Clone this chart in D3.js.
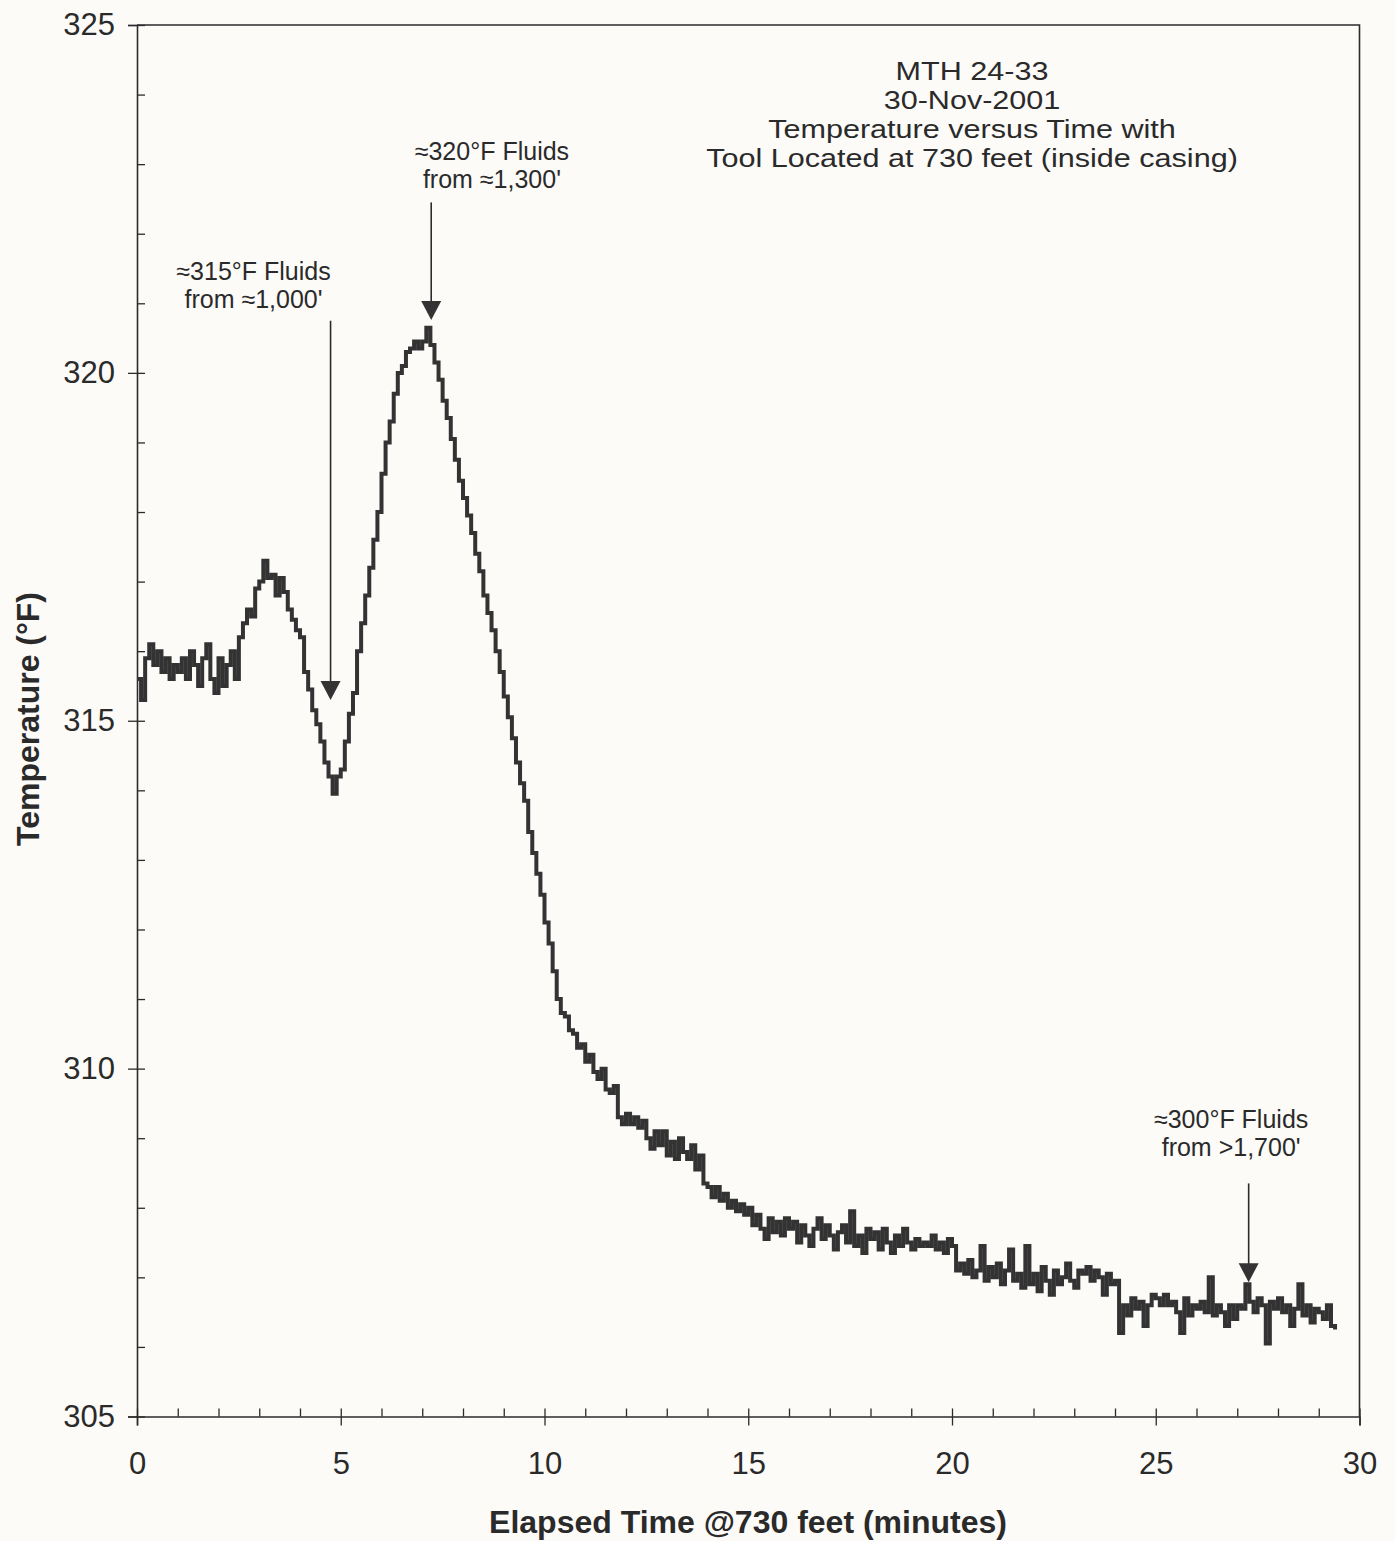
<!DOCTYPE html>
<html>
<head>
<meta charset="utf-8">
<script src="https://cdn.jsdelivr.net/npm/d3@7"></script>
<style>
  html, body { margin: 0; padding: 0; background: #fcfbf8; }
  svg { display: block; }
  text { font-family: "Liberation Sans", Arial, Helvetica, sans-serif; fill: #2a2a2a; }
</style>
</head>
<body>
<script>
// ---------------- DATA ----------------
const timeStep = 0.1; // minutes between readings
const temperature = [
  315.6, 315.3, 315.9, 316.1, 315.8, 316.0, 315.7, 315.9, 315.6, 315.8,
  315.7, 315.9, 315.6, 316.0, 315.8, 315.5, 315.9, 316.1, 315.6, 315.4,
  315.9, 315.5, 315.8, 316.0, 315.6, 316.2, 316.4, 316.6, 316.5, 316.9,
  317.0, 317.3, 317.05, 317.1, 316.8, 317.05, 316.85, 316.6, 316.45, 316.3,
  316.2, 315.7, 315.45, 315.15, 314.95, 314.7, 314.4, 314.2, 313.95, 314.2,
  314.3, 314.7, 315.1, 315.4, 316.0, 316.4, 316.8, 317.2, 317.6, 318.0,
  318.55, 319.0, 319.3, 319.7, 320.0, 320.1, 320.3, 320.35, 320.45, 320.35,
  320.45, 320.65, 320.4, 320.15, 319.9, 319.6, 319.35, 319.05, 318.75, 318.45,
  318.2, 317.95, 317.7, 317.4, 317.15, 316.8, 316.55, 316.3, 316.0, 315.7,
  315.35, 315.05, 314.75, 314.4, 314.1, 313.85, 313.4, 313.1, 312.8, 312.5,
  312.1, 311.8, 311.4, 311.0, 310.8, 310.75, 310.55, 310.5, 310.3, 310.35,
  310.1, 310.2, 309.95, 309.85, 310.0, 309.7, 309.65, 309.75, 309.3, 309.2,
  309.35, 309.2, 309.3, 309.15, 309.25, 309.0, 308.85, 309.1, 308.9, 309.1,
  308.75, 308.95, 308.7, 309.0, 308.8, 308.7, 308.9, 308.55, 308.75, 308.35,
  308.3, 308.15, 308.3, 308.1, 308.2, 308.0, 308.1, 307.95, 308.05, 307.9,
  308.0, 307.75, 307.9, 307.7, 307.55, 307.85, 307.65, 307.8, 307.6, 307.85,
  307.7, 307.8, 307.5, 307.75, 307.6, 307.45, 307.7, 307.85, 307.55, 307.75,
  307.6, 307.4, 307.65, 307.75, 307.5, 307.95, 307.45, 307.6, 307.35, 307.7,
  307.55, 307.65, 307.4, 307.7, 307.5, 307.35, 307.6, 307.45, 307.7, 307.5,
  307.4, 307.55, 307.45, 307.5, 307.45, 307.6, 307.4, 307.5, 307.35, 307.55,
  307.45, 307.1, 307.2, 307.05, 307.25, 307.0, 307.1, 307.45, 306.95, 307.15,
  307.0, 307.2, 306.9, 307.1, 307.4, 306.95, 307.05, 306.85, 307.45, 306.9,
  307.05, 306.8, 307.15, 306.95, 306.75, 307.1, 306.9, 307.0, 307.2, 306.95,
  306.85, 307.1, 307.05, 307.15, 306.95, 307.1, 307.0, 306.75, 307.05, 306.9,
  306.95, 306.2, 306.6, 306.45, 306.7, 306.55, 306.65, 306.3, 306.6, 306.75,
  306.7, 306.6, 306.75, 306.6, 306.65, 306.5, 306.2, 306.7, 306.45, 306.6,
  306.55, 306.65, 306.5, 307.0, 306.45, 306.6, 306.5, 306.3, 306.6, 306.4,
  306.6, 306.55, 306.9, 306.65, 306.5, 306.7, 306.6, 306.05, 306.65, 306.55,
  306.7, 306.5, 306.6, 306.3, 306.55, 306.9, 306.45, 306.6, 306.35, 306.55,
  306.5, 306.4, 306.6, 306.3, 306.25
];
const xMajorTicks = [0, 5, 10, 15, 20, 25, 30];
const yMajorTicks = [305, 310, 315, 320, 325];
const titleLines = ["MTH 24-33", "30-Nov-2001", "Temperature versus Time with", "Tool Located at 730 feet (inside casing)"];
const xTitle = "Elapsed Time @730 feet (minutes)";
const yTitle = "Temperature (°F)";
// annotations: label lines, arrow x (minutes), arrow tip temperature, arrow tail temperature
const annotLabels = [
  ["≈315°F Fluids", "from ≈1,000'"],
  ["≈320°F Fluids", "from ≈1,300'"],
  ["≈300°F Fluids", "from >1,700'"]
];
const annotX = [4.75, 7.22, 27.28];
const annotTip = [315.3, 320.76, 306.93];
const annotTail = [320.75, 322.45, 308.35];
const annotLabelX = [2.86, 8.71, 26.85];
const annotLabelT = [321.33, 323.06, 309.15];

// ---------------- LAYOUT ----------------
const W = 1395, H = 1541;
const mLeft = 137, mRight = 1359.5, mTop = 25, mBottom = 1416.5;
const ink = "#2b2b2b";

const svg = d3.select("body").append("svg").attr("width", W).attr("height", H);

const x = d3.scaleLinear().domain([0, 30]).range([mLeft, mRight]);
const y = d3.scaleLinear().domain([305, 325]).range([mBottom, mTop]);

const data = temperature.map((v, i) => ({ t: +(i * timeStep).toFixed(2), v }));

// frame (top and right)
svg.append("path")
  .attr("d", `M${mLeft},${mTop}H${mRight}V${mBottom}`)
  .attr("fill", "none").attr("stroke", ink).attr("stroke-width", 1.6);

// Y axis: outward major ticks + labels
const yAxisL = svg.append("g").attr("transform", `translate(${mLeft},0)`)
  .call(d3.axisLeft(y).tickValues(yMajorTicks).tickSize(9).tickPadding(13).tickFormat(d3.format("d")));
// inward minor+major ticks
const yAxisR = svg.append("g").attr("transform", `translate(${mLeft},0)`)
  .call(d3.axisRight(y).tickValues(d3.range(305, 326, 1)).tickSize(8).tickFormat(""));

// X axis
const xAxisB = svg.append("g").attr("transform", `translate(0,${mBottom})`)
  .call(d3.axisBottom(x).tickValues(xMajorTicks).tickSize(9).tickPadding(26).tickFormat(d3.format("d")));
const xAxisT = svg.append("g").attr("transform", `translate(0,${mBottom})`)
  .call(d3.axisTop(x).tickValues(d3.range(0, 31, 1)).tickSize(8).tickFormat(""));

[yAxisL, yAxisR, xAxisB, xAxisT].forEach(g => {
  g.select(".domain").attr("stroke", ink).attr("stroke-width", 1.6);
  g.selectAll(".tick line").attr("stroke", ink).attr("stroke-width", 1.3);
  g.selectAll(".tick text").attr("fill", "#2e2e2e").style("font-size", "31px")
    .style("font-family", "'Liberation Sans', Arial, sans-serif");
});
yAxisR.select(".domain").remove();
xAxisT.select(".domain").remove();

// data line
svg.append("path")
  .datum(data)
  .attr("fill", "none")
  .attr("stroke", "#333333")
  .attr("stroke-width", 4)
  .attr("stroke-linejoin", "miter")
  .attr("d", d3.line().x(d => x(d.t)).y(d => y(d.v)).curve(d3.curveStepAfter));

// title (slightly wide lettering, tightly stacked as in the original)
const tg = svg.append("g");
const titleTexts = titleLines.map((s, i) =>
  tg.append("text").attr("transform", `translate(972,${80 + i * 29})`)
    .attr("text-anchor", "middle").style("font-size", "25px").text(s));
const natural = titleTexts[3].node().getComputedTextLength();
const kx = 532 / natural;
titleTexts.forEach((t, i) => t.attr("transform", `translate(972,${80 + i * 29}) scale(${kx},1)`));

// annotations
annotLabels.forEach((lines, k) => {
  const ax = x(annotX[k]);
  const tipY = y(annotTip[k]);
  const tailY = y(annotTail[k]);
  svg.append("line").attr("x1", ax).attr("x2", ax).attr("y1", tailY).attr("y2", tipY - 10)
    .attr("stroke", ink).attr("stroke-width", 1.6);
  svg.append("path")
    .attr("d", `M${ax - 10},${tipY - 19}L${ax + 10},${tipY - 19}L${ax},${tipY}Z`)
    .attr("fill", "#333");
  lines.forEach((s, i) => {
    svg.append("text").attr("x", x(annotLabelX[k])).attr("y", y(annotLabelT[k]) + i * 28)
      .attr("text-anchor", "middle").style("font-size", "25px").text(s);
  });
});

// axis titles
svg.append("text").attr("x", 748).attr("y", 1532.5)
  .attr("text-anchor", "middle").style("font-size", "32px").style("font-weight", "bold").text(xTitle);
svg.append("text").attr("transform", `translate(38.5,719) rotate(-90)`)
  .attr("text-anchor", "middle").style("font-size", "32px").style("font-weight", "bold").text(yTitle);
</script>
</body>
</html>
